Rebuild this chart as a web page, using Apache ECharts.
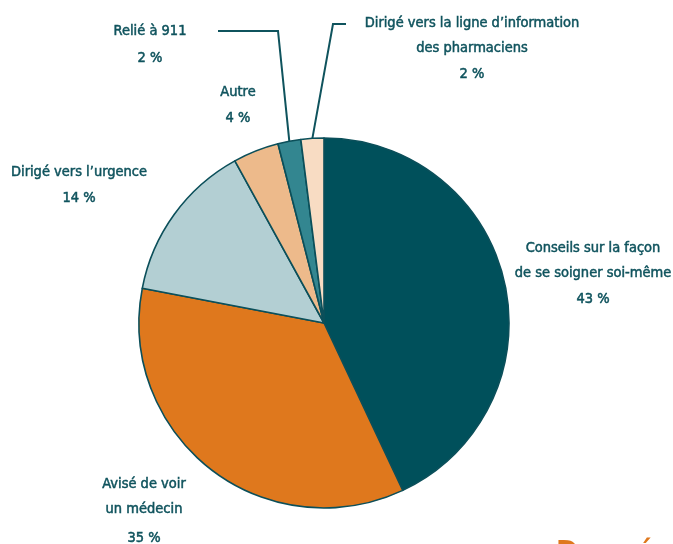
<!DOCTYPE html>
<html>
<head>
<meta charset="utf-8">
<script src="https://cdn.jsdelivr.net/npm/echarts@6/dist/echarts.min.js"></script>
<style>
html,body{margin:0;padding:0;background:#fff;}
#chart{width:673px;height:544px;}
</style>
</head>
<body>
<div id="chart"></div>
<script>
// catégories et valeurs (%)
var categories = [
	"Conseils sur la façon\nde se soigner soi-même",
	"Avisé de voir\nun médecin",
	"Dirigé vers l’urgence",
	"Autre",
	"Relié à 911",
	"Dirigé vers la ligne d’information\ndes pharmaciens"
];
var values = [43, 35, 14, 4, 2, 2];
var colors = ["#00505B", "#DF781D", "#B3CFD3", "#EDBA8B", "#338690", "#F8DCC3"];

var textColor = "#0F535D";
var fontFam = "'Liberation Sans Narrow', 'DejaVu Sans Condensed', sans-serif";
var fontSz = 14.5;

var myChart = echarts.init(document.getElementById("chart"));

// position des étiquettes
var labelPos = [
	{x: 593, y: 274, align: 'center'},
	{x: 144, y: 513, align: 'center'},
	{x: 79,  y: 186, align: 'center'},
	{x: 238, y: 106, align: 'center'},
	{x: 218, y: 31,  align: 'right'},
	{x: 346, y: 24,  align: 'left'}
];

var pieData = [];
for (var i=0;i<values.length;i++) {
	var item = {
		name: categories[i],
		value: values[i],
		itemStyle: {color: colors[i]},
		labelLine: {show: false}
	};
	if (i==1) {
		item.label = {rich: {p: {lineHeight: 33}}};
	}
	if (i==4) {
		item.labelLine = {show: true, length2: 60};
		item.label = {padding: [27, 31, 0, 0], backgroundColor: 'rgba(255,255,255,0)',
			rich: {t: {width: 74, lineHeight: 27}, p: {width: 74, lineHeight: 27}}};
	}
	if (i==5) {
		item.labelLine = {show: true, length2: 13};
		item.label = {padding: [50, 0, 0, 14], backgroundColor: 'rgba(255,255,255,0)',
			rich: {t: {width: 224}, p: {width: 224}}};
	}
	pieData.push(item);
}

var txt = {color: textColor, fontFamily: fontFam, fontSize: fontSz, textBorderColor: textColor, textBorderWidth: 0.5, align: 'center'};

var option = {
	animation: false,
	backgroundColor: '#ffffff',
	graphic: [{
		type: 'text',
		left: 556,
		top: 539,
		style: {text: 'Données', fill: '#DF781D', font: 'bold 30px ' + fontFam}
	}],
	series: [{
		type: 'pie',
		center: [324, 323],
		radius: 185,
		startAngle: 90,
		clockwise: true,
		avoidLabelOverlap: false,
		itemStyle: {borderColor: '#0B4F5A', borderWidth: 1.6},
		emphasis: {disabled: true},
		label: {
			show: true,
			color: textColor,
			fontFamily: fontFam,
			fontSize: fontSz,
			formatter: function(p) {
				var lines = p.name.split("\n");
				var s = "";
				for (var k=0;k<lines.length;k++) {
					s += "{t|" + lines[k] + "}\n";
				}
				return s + "{p|" + p.value + " %}";
			},
			rich: {
				t: echarts.util.extend({lineHeight: 25}, txt),
				p: echarts.util.extend({lineHeight: 27}, txt)
			}
		},
		labelLine: {
			lineStyle: {color: '#0F535D', width: 2}
		},
		labelLayout: function(params) {
			var lp = labelPos[params.dataIndex];
			return {x: lp.x, y: lp.y, align: lp.align, verticalAlign: 'middle', hideOverlap: false};
		},
		data: pieData
	}]
};

myChart.setOption(option);
</script>
</body>
</html>
